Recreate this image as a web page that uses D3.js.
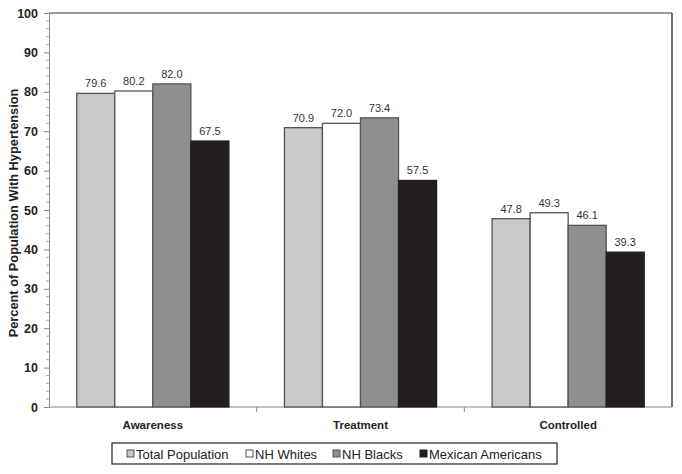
<!DOCTYPE html>
<html><head><meta charset="utf-8">
<script src="https://cdn.jsdelivr.net/npm/d3@7"></script>
<style>body{margin:0;background:#fff;} text{font-family:"Liberation Sans",Arial,sans-serif;}</style>
</head><body><svg id="c" width="682" height="474"></svg>
<script>
const categories = ["Awareness", "Treatment", "Controlled"];
const seriesNames = ["Total Population", "NH Whites", "NH Blacks", "Mexican Americans"];
const totalPopulation = [79.6, 70.9, 47.8];
const nhWhites = [80.2, 72.0, 49.3];
const nhBlacks = [82.0, 73.4, 46.1];
const mexicanAmericans = [67.5, 57.5, 39.3];
const yTicks = [0, 10, 20, 30, 40, 50, 60, 70, 80, 90, 100];
const colors = ["#c9c9c9", "#ffffff", "#8f8f8f", "#231f20"];
const seriesValues = [totalPopulation, nhWhites, nhBlacks, mexicanAmericans];

const svg = d3.select("#c");
const m = {l: 49, t: 13, r: 672, b: 407};
const x0 = d3.scaleBand().domain(categories).range([m.l, m.r]).paddingInner(0).paddingOuter(0);
const x1 = d3.scaleBand().domain(seriesNames).range([0, x0.bandwidth()]).paddingOuter(0.73).paddingInner(0);
const y = d3.scaleLinear().domain([0, 100]).range([m.b, m.t]);

// frame
svg.append("line").attr("x1", m.l).attr("x2", m.r).attr("y1", m.t).attr("y2", m.t).attr("stroke", "#777").attr("stroke-width", 1.5);
svg.append("line").attr("x1", m.r).attr("x2", m.r).attr("y1", m.t).attr("y2", m.b).attr("stroke", "#444").attr("stroke-width", 1.5);

// y axis
const yAxis = d3.axisLeft(y).tickValues(yTicks).tickSize(5).tickPadding(6);
const gy = svg.append("g").attr("transform", `translate(${m.l},0)`).call(yAxis);
gy.select(".domain").attr("stroke", "#888");
gy.selectAll(".tick line").attr("stroke", "#888");
gy.selectAll(".tick text").attr("font-size", 12.5).attr("font-weight", "bold").attr("fill", "#222").attr("font-family", "Liberation Sans, Arial, sans-serif");
const minor = d3.range(0, 101, 2).filter(v => v % 10 !== 0);
svg.append("g").selectAll("line").data(minor).join("line")
  .attr("x1", m.l - 3).attr("x2", m.l).attr("y1", d => y(d)).attr("y2", d => y(d)).attr("stroke", "#aaa");

// x axis
svg.append("line").attr("x1", m.l).attr("x2", m.r).attr("y1", m.b).attr("y2", m.b).attr("stroke", "#888").attr("stroke-width", 1.2);
const bounds = categories.slice(1).map(c => x0(c));
svg.append("g").selectAll("line").data(bounds).join("line")
  .attr("x1", d => d).attr("x2", d => d).attr("y1", m.b).attr("y2", m.b + 5).attr("stroke", "#888");
svg.append("g").selectAll("text").data(categories).join("text")
  .attr("x", d => x0(d) + x0.bandwidth() / 2).attr("y", 429).attr("text-anchor", "middle")
  .attr("font-size", 11.5).attr("font-weight", "bold").attr("fill", "#222").text(d => d);

// bars
categories.forEach((cat, ci) => {
  const g = svg.append("g").attr("transform", `translate(${x0(cat)},0)`);
  seriesNames.forEach((s, si) => {
    const v = seriesValues[si][ci];
    g.append("rect").attr("x", x1(s)).attr("y", y(v)).attr("width", x1.bandwidth()).attr("height", y(0) - y(v))
      .attr("fill", colors[si]).attr("stroke", si === 3 ? "#231f20" : "#555").attr("stroke-width", 1.3);
    g.append("text").attr("x", x1(s) + x1.bandwidth() / 2).attr("y", y(v) - 6).attr("text-anchor", "middle")
      .attr("font-size", 11).attr("fill", "#333").text(v.toFixed(1));
  });
});

// y label
svg.append("text").attr("transform", "translate(18,213) rotate(-90)").attr("text-anchor", "middle")
  .attr("font-size", 12.8).attr("font-weight", "bold").attr("fill", "#222").text("Percent of Population With Hypertension");

// legend
svg.append("rect").attr("x", 112).attr("y", 443).attr("width", 445).attr("height", 21).attr("fill", "#fff").attr("stroke", "#222").attr("stroke-width", 1.2);
const legX = [131, 250, 337, 424];
seriesNames.forEach((s, i) => {
  svg.append("rect").attr("x", legX[i] - 4).attr("y", 450).attr("width", 7).attr("height", 7)
    .attr("fill", colors[i]).attr("stroke", i === 3 ? "#231f20" : "#555").attr("stroke-width", 1);
  svg.append("text").attr("x", legX[i] + 5).attr("y", 458.5).attr("font-size", 13).attr("fill", "#222").text(s);
});
</script></body></html>
